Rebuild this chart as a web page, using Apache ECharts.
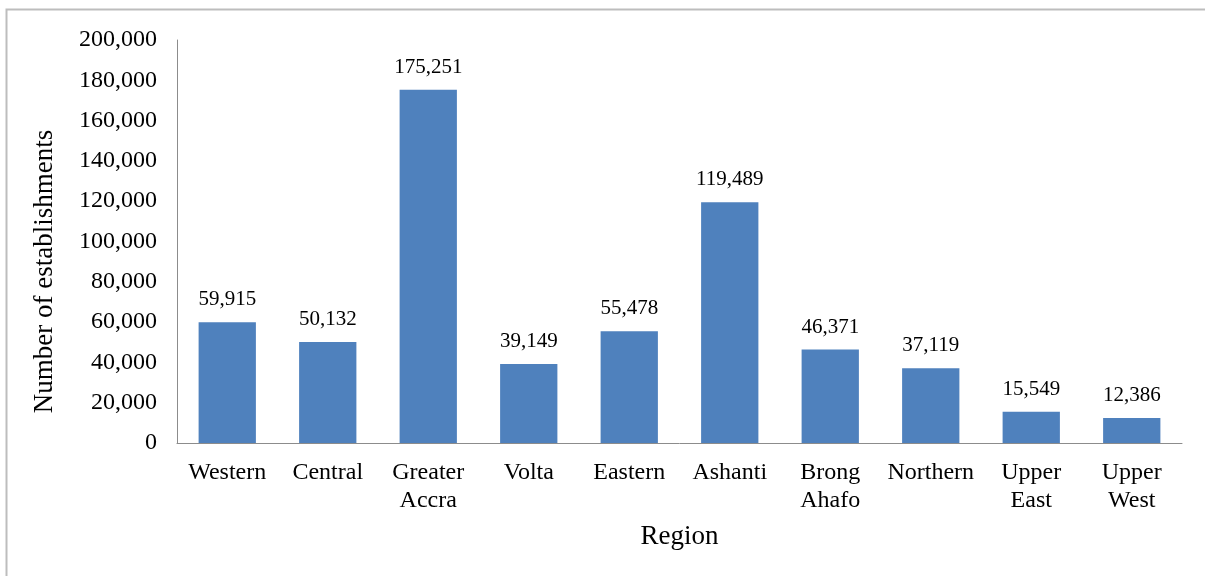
<!DOCTYPE html>
<html>
<head>
<meta charset="utf-8">
<script src="https://cdn.jsdelivr.net/npm/echarts@6/dist/echarts.min.js"></script>
<style>
  html, body { margin: 0; padding: 0; background: #fff; }
  #chart { width: 1205px; height: 576px; }
</style>
</head>
<body>
<div id="chart"></div>
<script>
// 地区与企业数量
var regions = ['Western', 'Central', 'Greater\nAccra', 'Volta', 'Eastern', 'Ashanti', 'Brong\nAhafo', 'Northern', 'Upper\nEast', 'Upper\nWest'];
var establishments = [59915, 50132, 175251, 39149, 55478, 119489, 46371, 37119, 15549, 12386];

var font = '"Liberation Serif", "Times New Roman", serif';
var fmt = function (v) {
    return String(v).replace(/\B(?=(\d{3})+(?!\d))/g, ',');
};

var my_chart = echarts.init(document.getElementById('chart'));

var option = {
    animation: false,
    textStyle: { fontFamily: font },
    graphic: [
        {
            type: 'rect',
            shape: { x: 6.5, y: 9.5, width: 1400, height: 800 },
            style: { fill: null, stroke: '#bdbdbd', lineWidth: 2 },
            silent: true
        }
    ],
    grid: { left: 177, top: 40, right: 23, bottom: 133 },
    xAxis: {
        type: 'category',
        data: regions,
        name: 'Region',
        nameLocation: 'middle',
        nameGap: 80,
        nameTextStyle: { fontFamily: font, fontSize: 27, color: '#000' },
        axisLine: { lineStyle: { color: '#8c8c8c', width: 1 } },
        axisTick: { show: false },
        axisLabel: { fontFamily: font, fontSize: 24, color: '#000', margin: 16, lineHeight: 28, interval: 0 }
    },
    yAxis: {
        type: 'value',
        min: 0,
        max: 200000,
        interval: 20000,
        name: 'Number of establishments',
        nameLocation: 'middle',
        nameGap: 119,
        // 标题整体下移约30px
        nameTextStyle: { fontFamily: font, fontSize: 27, color: '#000', padding: [0, 60, 0, 0] },
        axisLine: { show: true, lineStyle: { color: '#8c8c8c', width: 1 } },
        axisTick: { show: false },
        splitLine: { show: false },
        axisLabel: { fontFamily: font, fontSize: 24, color: '#000', margin: 20, formatter: fmt }
    },
    series: [
        {
            type: 'bar',
            data: establishments,
            barWidth: '57%',
            itemStyle: { color: '#4f81bd' },
            label: {
                show: true,
                position: 'top',
                distance: 12,
                fontFamily: font,
                fontSize: 21,
                color: '#000',
                formatter: function (p) { return fmt(p.value); }
            }
        }
    ]
};

my_chart.setOption(option);
</script>
</body>
</html>
